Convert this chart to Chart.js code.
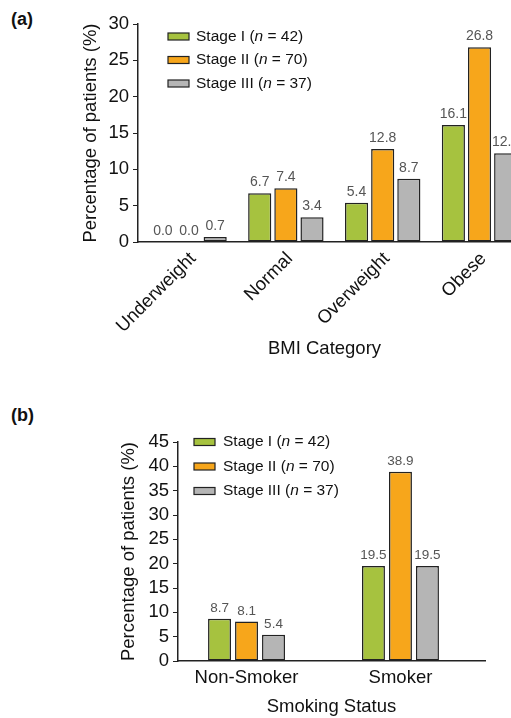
<!DOCTYPE html>
<html>
<head>
<meta charset="utf-8">
<script src="https://cdn.jsdelivr.net/npm/chart.js@4.4.1/dist/chart.umd.min.js"></script>
<style>
  body { margin: 0; width: 511px; height: 718px; overflow: hidden; background: #fff; position: relative;
         font-family: "Liberation Sans", Arial, sans-serif; }
  .wrap { position: absolute; left: 0; width: 511px; }
  #wrapA { top: 0; height: 370px; }
  #wrapB { top: 370px; height: 348px; }
  .tag { position: absolute; left: 11px; font-weight: bold; font-size: 18px; line-height: 20px; color: #111; }
</style>
</head>
<body>
<div class="tag" style="top:9px">(a)</div>
<div class="tag" style="top:405px">(b)</div>
<div class="wrap" id="wrapA"><canvas id="chartA" width="511" height="370"></canvas></div>
<div class="wrap" id="wrapB"><canvas id="chartB" width="511" height="348"></canvas></div>
<script>
// data
var stageNames = ['Stage I', 'Stage II', 'Stage III'];
var stageN = [42, 70, 37];
var stageColors = ['#a6c23f', '#f7a61b', '#b5b5b5'];

var bmiCategories = ['Underweight', 'Normal', 'Overweight', 'Obese'];
var bmiStage1 = [0.0, 6.7, 5.4, 16.1];
var bmiStage2 = [0.0, 7.4, 12.8, 26.8];
var bmiStage3 = [0.7, 3.4, 8.7, 12.2];

var smokeCategories = ['Non-Smoker', 'Smoker'];
var smokeStage1 = [8.7, 19.5];
var smokeStage2 = [8.1, 38.9];
var smokeStage3 = [5.4, 19.5];

var FONT = '"Liberation Sans", Arial, sans-serif';

function toPoints(arr) {
  return arr.map((v, i) => ({ x: i, y: v }));
}

function makeSets(series, catPct, barPct) {
  return series.map((s, i) => ({
    label: stageNames[i],
    data: toPoints(s),
    backgroundColor: stageColors[i],
    borderColor: '#222',
    borderWidth: 1.5,
    borderSkipped: false,
    categoryPercentage: catPct,
    barPercentage: barPct
  }));
}

// value labels above every bar
const valueLabels = {
  id: 'valueLabels',
  afterDatasetsDraw(chart, args, opts) {
    const ctx = chart.ctx;
    ctx.save();
    ctx.font = opts.font;
    ctx.fillStyle = '#555';
    ctx.textAlign = 'center';
    ctx.textBaseline = 'bottom';
    chart.data.datasets.forEach((ds, di) => {
      chart.getDatasetMeta(di).data.forEach((el, i) => {
        ctx.fillText(ds.data[i].y.toFixed(1), el.x, el.y - 4);
      });
    });
    ctx.restore();
  }
};

// legend with italic n, drawn inside the plot
const stageLegend = {
  id: 'stageLegend',
  afterDraw(chart, args, opts) {
    const ctx = chart.ctx;
    const a = chart.chartArea;
    ctx.save();
    ctx.textBaseline = 'middle';
    chart.data.datasets.forEach((ds, i) => {
      const x = a.left + opts.dx;
      const y = a.top + opts.dy + i * opts.step;
      ctx.fillStyle = ds.backgroundColor;
      ctx.fillRect(x, y - 3.5, 21, 7);
      ctx.strokeStyle = '#222';
      ctx.lineWidth = 1.2;
      ctx.strokeRect(x, y - 3.5, 21, 7);
      ctx.fillStyle = '#111';
      let tx = x + opts.gap;
      const parts = [[stageNames[i] + ' (', ''], ['n', 'italic '], [' = ' + stageN[i] + ')', '']];
      parts.forEach(p => {
        ctx.font = p[1] + opts.size + 'px ' + FONT;
        ctx.fillText(p[0], tx, y);
        tx += ctx.measureText(p[0]).width;
      });
    });
    ctx.restore();
  }
};

function baseOptions(cfg) {
  return {
    responsive: false,
    animation: false,
    layout: { padding: { left: cfg.padLeft, right: cfg.padRight, top: cfg.padTop, bottom: cfg.padBottom } },
    plugins: {
      legend: { display: false },
      tooltip: { enabled: false },
      valueLabels: { font: cfg.valueFont },
      stageLegend: cfg.legend
    },
    scales: {
      x: {
        type: 'linear',
        offset: false,
        min: cfg.xMin,
        max: cfg.xMax,
        grid: { display: false, drawTicks: false, offset: false },
        border: { display: true, color: '#222', width: 1.5 },
        afterBuildTicks: s => { s.ticks = cfg.categories.map((c, i) => ({ value: i })); },
        afterFit: s => { s.height = cfg.xHeight; s.paddingLeft = 0; s.paddingRight = 0; },
        ticks: {
          autoSkip: false,
          minRotation: cfg.rot,
          maxRotation: cfg.rot,
          padding: cfg.xTickPad,
          labelOffset: cfg.labelShift,
          color: '#111',
          font: { family: FONT, size: 18.5 },
          callback: v => cfg.categories[v]
        },
        title: {
          display: true,
          text: cfg.xTitle,
          color: '#111',
          padding: { top: 0, bottom: 0 },
          font: { family: FONT, size: 18.5 }
        }
      },
      y: {
        min: 0,
        max: cfg.yMax,
        grid: { display: true, drawOnChartArea: false, drawTicks: true, tickLength: 5, color: '#222', lineWidth: 1 },
        border: { display: true, color: '#222', width: 1.5 },
        afterFit: s => { s.width = cfg.yWidth; s.paddingTop = 0; s.paddingBottom = 0; },
        ticks: {
          stepSize: 5,
          autoSkip: false,
          padding: 4,
          color: '#111',
          font: { family: FONT, size: 18.5 }
        },
        title: {
          display: true,
          text: 'Percentage of patients (%)',
          color: '#111',
          padding: { top: 0, bottom: 0 },
          font: { family: FONT, size: 18.5 }
        }
      }
    }
  };
}

new Chart(document.getElementById('chartA'), {
  type: 'bar',
  data: { datasets: makeSets([bmiStage1, bmiStage2, bmiStage3], 0.81, 0.885) },
  options: baseOptions({
    categories: bmiCategories, xTitle: 'BMI Category',
    xMin: -0.527, xMax: 3.325, yMax: 30, rot: 45, xTickPad: 6, labelShift: 4,
    padLeft: 80, padRight: 0, padTop: 24, padBottom: 10,
    yWidth: 58, xHeight: 118,
    valueFont: '14px ' + FONT,
    legend: { dx: 30, dy: 12.5, step: 23.5, gap: 28, size: 15.5 }
  }),
  plugins: [valueLabels, stageLegend]
});

new Chart(document.getElementById('chartB'), {
  type: 'bar',
  data: { datasets: makeSets([smokeStage1, smokeStage2, smokeStage3], 0.526, 0.85) },
  options: baseOptions({
    categories: smokeCategories, xTitle: 'Smoking Status',
    xMin: -0.445, xMax: 1.549, yMax: 45, rot: 0, xTickPad: 6, labelShift: 0,
    padLeft: 118, padRight: 26, padTop: 72, padBottom: 0,
    yWidth: 60, xHeight: 57,
    valueFont: '13.5px ' + FONT,
    legend: { dx: 16, dy: 0, step: 24.5, gap: 29, size: 15.5 }
  }),
  plugins: [valueLabels, stageLegend]
});
</script>
</body>
</html>
